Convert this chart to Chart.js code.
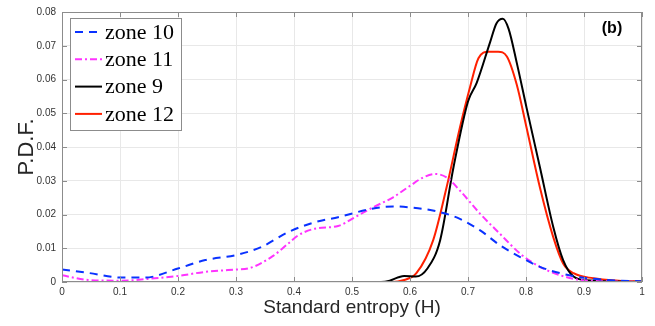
<!DOCTYPE html>
<html>
<head>
<meta charset="utf-8">
<script src="https://cdn.jsdelivr.net/npm/chart.js@4.4.1/dist/chart.umd.min.js"></script>
<style>
  html, body { margin: 0; padding: 0; background: #fff; }
  #wrap { width: 655px; height: 326px; position: relative; }
</style>
</head>
<body>
<div id="wrap"><canvas id="myChart" width="655" height="326"></canvas></div>
<script>
// data
const seriesNames = ['zone 10', 'zone 11', 'zone 9', 'zone 12'];

const zone10X = [0, 0.045, 0.103, 0.143, 0.2, 0.247, 0.301, 0.344, 0.39, 0.436, 0.476, 0.534, 0.571, 0.606, 0.652, 0.686, 0.721, 0.755, 0.79, 0.824, 0.859, 0.893, 0.94, 1];
const zone10Y = [0.0037, 0.0027, 0.0013, 0.0013, 0.004, 0.0065, 0.008, 0.0104, 0.0148, 0.0177, 0.0192, 0.0217, 0.0224, 0.022, 0.0207, 0.0187, 0.0153, 0.0109, 0.0074, 0.0045, 0.0026, 0.0014, 0.0006, 0.0002];

const zone11X = [0, 0.045, 0.103, 0.16, 0.2, 0.247, 0.301, 0.321, 0.362, 0.39, 0.407, 0.436, 0.476, 0.505, 0.537, 0.571, 0.6, 0.623, 0.643, 0.663, 0.686, 0.721, 0.755, 0.79, 0.824, 0.859, 0.893, 0.94, 1];
const zone11Y = [0.002, 0.0006, 0.0004, 0.0011, 0.0018, 0.003, 0.0037, 0.004, 0.0075, 0.0114, 0.0138, 0.0158, 0.0166, 0.0192, 0.0222, 0.0251, 0.0285, 0.031, 0.032, 0.031, 0.0271, 0.0202, 0.0143, 0.0084, 0.0045, 0.002, 0.0006, 0.0002, 0];

const zone9X = [0, 0.55, 0.565, 0.58, 0.59, 0.61, 0.63, 0.652, 0.675, 0.7, 0.715, 0.738, 0.749, 0.76, 0.77, 0.784, 0.801, 0.824, 0.847, 0.864, 0.882, 0.905, 1];
const zone9Y = [0, 0, 0.0004, 0.0014, 0.0018, 0.0016, 0.004, 0.0124, 0.034, 0.0535, 0.059, 0.071, 0.0766, 0.078, 0.075, 0.065, 0.0516, 0.034, 0.0163, 0.0065, 0.0016, 0.0005, 0];

const zone12X = [0, 0.57, 0.588, 0.611, 0.64, 0.663, 0.686, 0.703, 0.718, 0.735, 0.752, 0.767, 0.784, 0.801, 0.824, 0.847, 0.864, 0.882, 0.916, 0.96, 1];
const zone12Y = [0, 0, 0.0005, 0.0026, 0.0124, 0.028, 0.0457, 0.0574, 0.0663, 0.0682, 0.0682, 0.0668, 0.0585, 0.0457, 0.028, 0.0133, 0.0055, 0.0026, 0.0011, 0.0004, 0.0002];

const xTickLabels = ['0', '0.1', '0.2', '0.3', '0.4', '0.5', '0.6', '0.7', '0.8', '0.9', '1'];
const yTickLabels = ['0', '0.01', '0.02', '0.03', '0.04', '0.05', '0.06', '0.07', '0.08'];

const colors = ['#0a32ff', '#ff33ff', '#000000', '#ff2000'];
const dashes = [[8, 6], [7, 3, 2, 3], [], []];
const widths = [2, 2, 2, 2];

function pts(xs, ys) {
  return xs.map((x, i) => ({x: x, y: ys[i]}));
}

const allX = [zone10X, zone11X, zone9X, zone12X];
const allY = [zone10Y, zone11Y, zone9Y, zone12Y];

const datasets = seriesNames.map((name, i) => ({
  label: name,
  data: pts(allX[i], allY[i]),
  borderColor: colors[i],
  backgroundColor: colors[i],
  borderWidth: widths[i],
  borderDash: dashes[i],
  pointRadius: 0,
  cubicInterpolationMode: 'monotone',
  fill: false
}));

// matlab-style frame, inward ticks, legend box and panel letter
const matlabBits = {
  id: 'matlabBits',
  afterDatasetsDraw(chart) {
    const ctx = chart.ctx;
    const a = chart.chartArea;
    const xs = chart.scales.x, ys = chart.scales.y;
    ctx.save();
    ctx.strokeStyle = '#8c8c8c';
    ctx.lineWidth = 1;
    ctx.strokeRect(a.left + 0.5, a.top + 0.5, a.right - a.left - 1, a.bottom - a.top - 1);
    ctx.beginPath();
    for (let i = 0; i < xTickLabels.length; i++) {
      const px = Math.round(xs.getPixelForValue(i / 10)) + 0.5;
      ctx.moveTo(px, a.bottom); ctx.lineTo(px, a.bottom - 5);
      ctx.moveTo(px, a.top); ctx.lineTo(px, a.top + 5);
    }
    for (let i = 0; i < yTickLabels.length; i++) {
      const py = Math.round(ys.getPixelForValue(i / 100)) + 0.5;
      ctx.moveTo(a.left, py); ctx.lineTo(a.left + 5, py);
      ctx.moveTo(a.right, py); ctx.lineTo(a.right - 5, py);
    }
    ctx.stroke();

    // legend
    const lx = 70, ly = 18, lw = 111, lh = 112;
    ctx.fillStyle = '#fff';
    ctx.fillRect(lx, ly, lw, lh);
    ctx.strokeStyle = '#8c8c8c';
    ctx.strokeRect(lx + 0.5, ly + 0.5, lw, lh);
    ctx.font = '22px "Liberation Serif", "DejaVu Serif", serif';
    ctx.textBaseline = 'middle';
    ctx.textAlign = 'left';
    seriesNames.forEach((name, i) => {
      const yy = 32 + i * 27.3;
      ctx.beginPath();
      ctx.strokeStyle = colors[i];
      ctx.lineWidth = widths[i];
      ctx.setLineDash(dashes[i]);
      ctx.moveTo(75, yy); ctx.lineTo(102, yy);
      ctx.stroke();
      ctx.setLineDash([]);
      ctx.fillStyle = '#000';
      ctx.fillText(name, 105, yy + 1);
    });

    ctx.font = 'bold 16px "Liberation Sans", Arial, sans-serif';
    ctx.fillStyle = '#000';
    ctx.textAlign = 'center';
    ctx.fillText('(b)', 612, 29);
    ctx.restore();
  }
};

const config = {
  type: 'line',
  data: { datasets: datasets },
  options: {
    responsive: false,
    animation: false,
    layout: { padding: { left: 0, right: 13, top: 10, bottom: 0 } },
    plugins: {
      legend: { display: false },
      tooltip: { enabled: false }
    },
    scales: {
      x: {
        type: 'linear',
        min: 0,
        max: 1,
        afterBuildTicks(scale) {
          scale.ticks = xTickLabels.map((t, i) => ({value: i / 10}));
        },
        afterFit(scale) { scale.height = 44; },
        ticks: {
          callback: (v, i) => xTickLabels[i],
          font: { family: '"Liberation Sans", Arial, sans-serif', size: 10 },
          color: '#333',
          padding: 4,
          maxRotation: 0
        },
        grid: { color: '#e8e8e8', drawTicks: false },
        border: { display: false },
        title: {
          display: true,
          text: 'Standard entropy (H)',
          font: { family: '"Liberation Sans", Arial, sans-serif', size: 19 },
          color: '#262626',
          padding: { top: 0, bottom: 7 }
        }
      },
      y: {
        type: 'linear',
        min: 0,
        max: 0.08,
        afterBuildTicks(scale) {
          scale.ticks = yTickLabels.map((t, i) => ({value: i / 100}));
        },
        afterFit(scale) { scale.width = 62; },
        ticks: {
          callback: (v, i) => yTickLabels[i],
          font: { family: '"Liberation Sans", Arial, sans-serif', size: 10 },
          color: '#333',
          padding: 6
        },
        grid: { color: '#e8e8e8', drawTicks: false },
        border: { display: false },
        title: {
          display: true,
          text: 'P.D.F.',
          font: { family: '"Liberation Sans", Arial, sans-serif', size: 22 },
          color: '#262626',
          padding: { top: 14, bottom: 0 }
        }
      }
    }
  },
  plugins: [matlabBits]
};

const myChart = new Chart(document.getElementById('myChart'), config);
</script>
</body>
</html>
